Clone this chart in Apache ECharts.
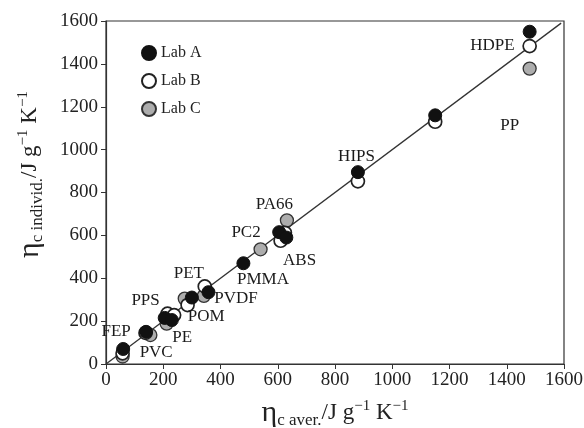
<!DOCTYPE html>
<html><head><meta charset="utf-8">
<script src="https://cdn.jsdelivr.net/npm/echarts@6/dist/echarts.min.js"></script>
<style>html,body{margin:0;padding:0;background:#fff}#c{width:584px;height:428px}</style>
</head><body><div id="c"></div>
<script>
// Lab A (filled black)
const labA = [[60,70],[140,150],[205,215],[230,205],[300,310],[358,335],[480,470],[605,615],[630,590],[880,895],[1150,1160],[1480,1550]];
// Lab B (open)
const labB = [[58,50],[138,145],[215,235],[238,228],[285,275],[345,362],[610,575],[625,612],[880,852],[1150,1130],[1480,1483]];
// Lab C (grey)
const labC = [[58,35],[155,135],[212,188],[275,305],[342,318],[540,535],[632,670],[1480,1378]];
// Identity line
const lineXY = [[0,0],[1590,1590]];
// Material labels: name and anchor in data units
const matNames = ['HDPE','PP','HIPS','PA66','PC2','ABS','PMMA','PET','PVDF','PPS','POM','PE','FEP','PVC'];
const matX = [1352,1412,877,590,491,678,550,291,456,140,352,268,37,177];
const matY = [1483,1110,965,742,609,480,392,420,302,295,218,120,148,50];
const xTicks = [0,200,400,600,800,1000,1200,1400,1600];

const serif = '"Liberation Serif","DejaVu Serif",serif';
const chart = echarts.init(document.getElementById('c'));
const sym = 13;
function titleRich(){
  return {
    e:{fontFamily:serif,fontSize:30,color:'#222'},
    s:{fontFamily:serif,fontSize:17,color:'#222',padding:[15,0,0,0]},
    t:{fontFamily:serif,fontSize:23,color:'#222'},
    p:{fontFamily:serif,fontSize:15,color:'#222',padding:[0,0,13,0]}
  };
}
chart.setOption({
  animation:false,
  grid:{left:106,right:20,top:21,bottom:64,show:true,borderColor:'#333',borderWidth:1.2,
    containLabel:false,outerBoundsMode:'none'},
  legend:{
    orient:'vertical',left:136,top:40,itemGap:12,itemWidth:14,itemHeight:14,
    data:['Lab A','Lab B','Lab C'],
    textStyle:{fontFamily:serif,fontSize:16,color:'#222'}
  },
  xAxis:{
    type:'value',min:0,max:1600,interval:200,
    axisLine:{lineStyle:{color:'#333',width:1.2}},
    axisTick:{length:5,lineStyle:{color:'#333'}},
    splitLine:{show:false},
    axisLabel:{fontFamily:serif,fontSize:19,color:'#222',margin:7,
      formatter:function(v){return xTicks.indexOf(v)>=0?String(v):'';}},
    name:'{e|η}{s|c aver.}{t|/J g}{p|−1}{t| K}{p|−1}',
    nameLocation:'middle',nameGap:33,
    nameTextStyle:{rich:titleRich()}
  },
  yAxis:{
    type:'value',min:0,max:1600,interval:200,
    axisLine:{lineStyle:{color:'#333',width:1.2}},
    axisTick:{length:5,lineStyle:{color:'#333'}},
    splitLine:{show:false},
    axisLabel:{fontFamily:serif,fontSize:19,color:'#222',margin:8,
      formatter:function(v){return String(v);}},
    name:'{e|η}{s|c individ.}{t|/J g}{p|−1}{t| K}{p|−1}',
    nameLocation:'middle',nameGap:60,nameRotate:90,
    nameTextStyle:{rich:titleRich(),padding:[0,0,0,36]}
  },
  series:[
    {type:'line',data:lineXY,symbol:'none',silent:true,lineStyle:{color:'#333',width:1.3},z:1},
    {name:'Lab C',type:'scatter',data:labC,symbolSize:sym,z:2,
      itemStyle:{color:'#adadad',borderColor:'#333',borderWidth:1.3,opacity:1}},
    {name:'Lab B',type:'scatter',data:labB,symbolSize:sym,z:3,
      itemStyle:{color:'#ffffff',borderColor:'#222',borderWidth:1.7,opacity:1}},
    {name:'Lab A',type:'scatter',data:labA,symbolSize:sym,z:4,
      itemStyle:{color:'#111111',borderColor:'#111',borderWidth:1,opacity:1}},
    {type:'scatter',silent:true,symbolSize:1,z:5,itemStyle:{opacity:0},
      data:matNames.map((n,i)=>({name:n,value:[matX[i],matY[i]]})),
      label:{show:true,position:[0,0],align:'center',verticalAlign:'middle',formatter:'{b}',
        fontFamily:serif,fontSize:17,color:'#1a1a1a',opacity:1,textBorderWidth:0}}
  ]
});
</script></body></html>
